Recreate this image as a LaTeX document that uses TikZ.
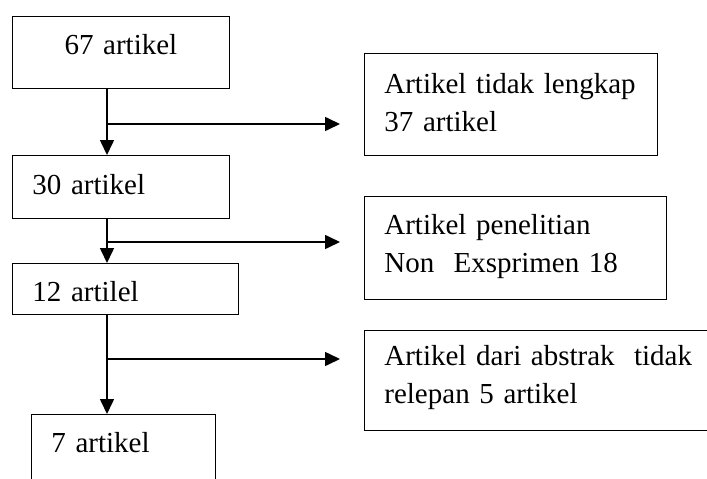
\documentclass[tikz,border=0pt]{standalone}
\usepackage{fontspec}
\setmainfont{Liberation Serif}
\usetikzlibrary{positioning,arrows.meta}

\begin{document}
\begin{tikzpicture}[x=1pt,y=-1pt,
						box/.style={draw,rectangle,line width=0.8pt,anchor=north west,inner xsep=20pt,inner ysep=0pt,align=left,font=\fontsize{29}{38}\selectfont},
						flow/.style={line width=1.6pt,-{Triangle[length=15pt,width=14pt]}}]
		\useasboundingbox (0,0) rectangle (707,479);
		\clip (0,0) rectangle (707,479);

		% left column
		\node[box,align=center,text width=177pt,minimum height=72pt,text height=4pt,text depth=0pt]	(b1)	at (12,16)	{67 artikel};
		\node[box,text width=177pt,minimum height=63pt,text height=15pt,text depth=0pt]			(b2)	at (12,155)	{30 artikel};
		\node[box,text width=186pt,minimum height=51pt,text height=25pt,text depth=0pt]			(b3)	at (12,263)	{12 artilel};
		\node[box,text width=144pt,minimum height=72pt,text height=4pt,text depth=0pt]			(b4)	at (31,414)	{7 artikel};

		% right column
		\node[box,text width=253pt,minimum height=102pt,text height=0pt,text depth=22pt]	(r1)	at (364,53)		{Artikel tidak lengkap\\37 artikel};
		\node[box,text width=262pt,minimum height=103pt,text height=0pt,text depth=27pt]	(r2)	at (364,196)	{Artikel penelitian\\Non\ \ Exsprimen 18};
		\node[box,text width=310pt,minimum height=100pt,text height=0pt,text depth=30pt]	(r3)	at (364,330)	{Artikel dari abstrak\ \ tidak\\relepan 5 artikel};

		\coordinate (spine)	at (107,0);
		\coordinate (j1)	at (107,124);
		\coordinate (j2)	at (107,242);
		\coordinate (j3)	at (107,359);
		\coordinate (e1)	at (340,124);
		\coordinate (e2)	at (340,242);
		\coordinate (e3)	at (340,359);

		\draw[flow] (b1.south -| spine) -- (b2.north -| spine);
		\draw[flow] (b2.south -| spine) -- (b3.north -| spine);
		\draw[flow] (b3.south -| spine) -- (b4.north -| spine);
		\draw[flow] (j1) -- (e1);
		\draw[flow] (j2) -- (e2);
		\draw[flow] (j3) -- (e3);
	\end{tikzpicture}
\end{document}
